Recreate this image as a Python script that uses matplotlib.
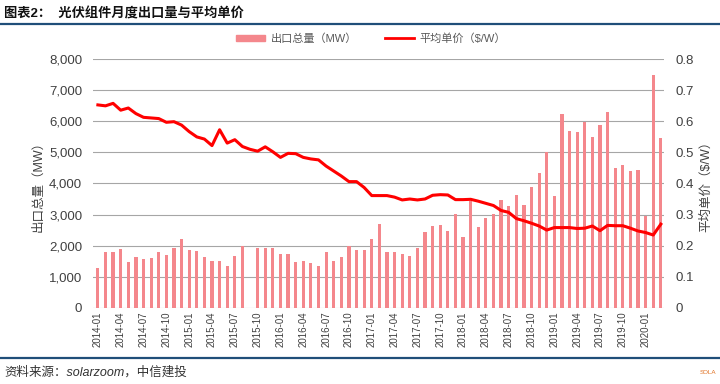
import matplotlib
matplotlib.use("Agg")
import matplotlib.pyplot as plt
import numpy as np
from matplotlib.lines import Line2D
from matplotlib.patches import Patch

plt.rcParams['font.family'] = ['Liberation Sans', 'Noto Sans CJK SC', 'DejaVu Sans']

# Monatsdaten 2014-01 bis 2020-03
jahre = list(range(2014, 2021))
monate = [f"{j}-{m:02d}" for j in jahre for m in range(1, 13)][:75]

# Exportmenge (MW), 2015-09 fehlt
menge = [1270, 1780, 1780, 1900, 1480, 1620, 1570, 1590, 1780, 1700, 1920, 2210,
         1860, 1840, 1630, 1515, 1490, 1330, 1680, 2000, np.nan, 1930, 1920, 1920,
         1720, 1720, 1460, 1500, 1440, 1350, 1780, 1500, 1620, 2000, 1850, 1860,
         2210, 2710, 1800, 1800, 1740, 1680, 1930, 2430, 2620, 2660, 2480, 3010,
         2270, 3420, 2600, 2880, 3020, 3480, 3260, 3640, 3300, 3890, 4330, 5000,
         3590, 6250, 5690, 5650, 5970, 5510, 5890, 6300, 4510, 4590, 4400, 4430,
         2950, 7480, 5450]

# Durchschnittspreis ($/W)
preis = [0.653, 0.650, 0.658, 0.636, 0.643, 0.625, 0.613, 0.611, 0.609, 0.597, 0.599, 0.588,
         0.567, 0.550, 0.543, 0.522, 0.573, 0.530, 0.541, 0.519, 0.510, 0.504, 0.518, 0.502,
         0.484, 0.497, 0.496, 0.484, 0.479, 0.476, 0.456, 0.440, 0.424, 0.406, 0.406, 0.387,
         0.361, 0.361, 0.361, 0.356, 0.347, 0.350, 0.347, 0.350, 0.362, 0.364, 0.363, 0.348,
         0.348, 0.349, 0.343, 0.336, 0.329, 0.313, 0.307, 0.287, 0.280, 0.272, 0.263, 0.250,
         0.258, 0.258, 0.258, 0.255, 0.256, 0.263, 0.248, 0.265, 0.264, 0.264, 0.256, 0.247,
         0.242, 0.234, 0.269]

titel = "图表2：  光伏组件月度出口量与平均单价"
quelle = "资料来源：solarzoom，中信建投"
lab_menge = "出口总量（MW）"
lab_preis = "平均单价（$/W）"

farbe_bar = "#F4878C"
farbe_linie = "#FF0000"
blau = "#1F4E79"
grau = "#404040"

x = np.arange(len(monate))

fig = plt.figure(figsize=(7.2, 3.84), dpi=100)
ax = fig.add_axes([0.1296, 0.1987, 0.793, 0.647])
ax2 = ax.twinx()

ax.bar(x, menge, width=0.42, color=farbe_bar, zorder=2)
ax2.plot(x, preis, color=farbe_linie, lw=2.2, zorder=3)

ax.set_xlim(-0.6, len(x) - 0.55)
ax.set_ylim(0, 8000)
ax2.set_ylim(0, 0.8)
ax.set_yticks(np.arange(0, 8001, 1000))
ax.set_yticklabels([f"{v:,}" for v in range(0, 8001, 1000)])
ax2.set_yticks(np.arange(0, 0.81, 0.1))
ax2.set_yticklabels(["0"] + [f"{v/10:.1f}" for v in range(1, 9)])
ax.set_xticks(x[::3])
ax.set_xticklabels(monate[::3], rotation=90, fontsize=7, color=grau)

ax.grid(axis='y', color="#A6A6A6", lw=0.8, zorder=0)
ax.set_axisbelow(True)
for a in (ax, ax2):
    for s in a.spines.values():
        s.set_visible(False)
ax.tick_params(axis='y', length=0, pad=8, labelsize=9.5, labelcolor=grau)
ax2.tick_params(axis='y', length=0, pad=8, labelsize=9.5, labelcolor=grau)
ax.tick_params(axis='x', length=0, pad=3)

ax.set_ylabel(lab_menge, fontsize=9, color=grau, labelpad=3)
ax2.set_ylabel(lab_preis, fontsize=9, color=grau, rotation=90, labelpad=4)

# Legende oben
handles = [Patch(color=farbe_bar), Line2D([0], [0], color=farbe_linie, lw=2)]
fig.legend(handles, [lab_menge, lab_preis], loc='center', bbox_to_anchor=(0.515, 0.9),
           ncol=2, frameon=False, fontsize=8, labelcolor="#595959",
           handlelength=2.6, handleheight=0.4, columnspacing=2.5, handletextpad=0.5)

# Titel, Linien, Quelle
fig.text(0.006, 0.965, titel, fontsize=9.5, fontweight='bold', va='center', color="#111111")
fig.add_artist(Line2D([0, 1], [0.937, 0.937], color=blau, lw=1.6, transform=fig.transFigure))
fig.add_artist(Line2D([0, 1], [0.068, 0.068], color=blau, lw=1.6, transform=fig.transFigure))
fig.text(0.006, 0.03, quelle, fontsize=9, style='italic', va='center', color="#333333")
fig.text(0.972, 0.03, "SOLA", fontsize=4.5, va='center', color="#E07020")

fig.savefig("out.png", dpi=100)
